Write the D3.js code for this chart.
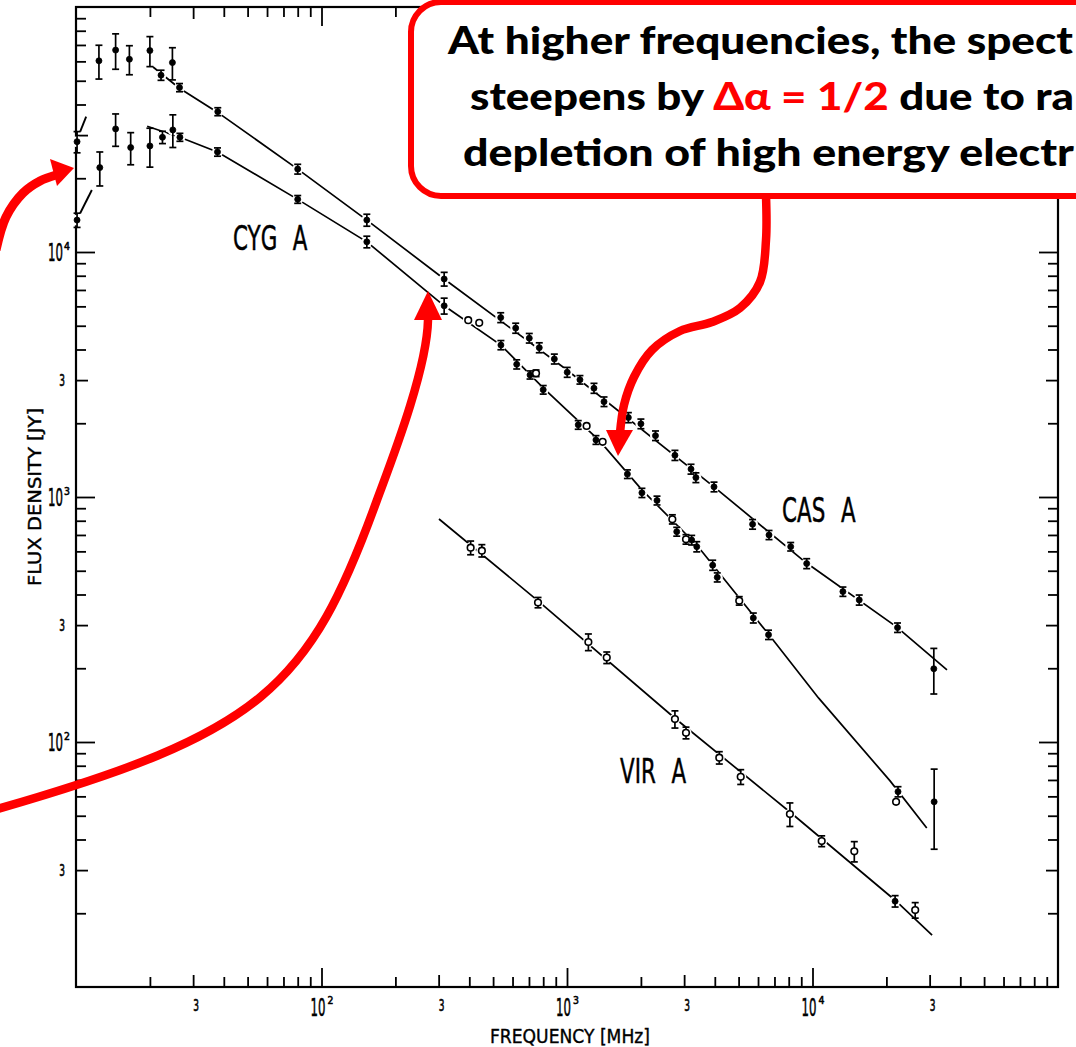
<!DOCTYPE html>
<html><head><meta charset="utf-8">
<script src="https://cdn.jsdelivr.net/npm/d3@7"></script>
<style>
html,body{margin:0;padding:0;background:#fff;overflow:hidden}
svg{display:block}
</style></head><body>
<svg id="chart" width="1076" height="1047" xmlns="http://www.w3.org/2000/svg"></svg>
<script>
// ---------------- DATA (frequency in MHz, flux density in Jy) ----------------
const casFreq = [10.1,12.4,14.5,16.5,20.0,22.2,24.7,26.4,37.8,80,153,316,537,618,702,771,888,1002,1129,1288,1415,1778,2000,2293,2752,3200,3350,3970,5700,6650,8150,9470,13300,15500,22200,31200];
const casFlux = [28200,60300,66700,61200,66400,52700,59300,46900,37400,21800,13500,7760,5400,4890,4450,4070,3660,3230,3010,2780,2450,2110,1990,1780,1480,1300,1200,1100,774,700,627,535,411,380,293,199];
const casErr  = [2800,9500,11000,8300,9300,2500,8900,1800,1400,1000,760,500,250,230,200,190,170,150,120,130,110,100,90,80,70,60,55,50,35,30,25,25,18,18,13,42];

const cygFreq = [10.1,12.5,14.5,16.7,20.0,22.5,24.8,26.5,37.7,80,153,316,396,439,538,624,707,748,800,1111,1202,1312,1397,1762,2019,2326,2686,2799,3053,3220,3377,3921,4093,5030,5740,6620,22300,21900,31300];
const cygFlux = [13500,22100,31800,26700,27100,29400,31500,29400,25600,16400,11000,6030,5270,5140,4170,3480,3150,3200,2740,1970,1950,1710,1680,1240,1040,968,811,722,672,667,627,527,470,377,321,274,62.7,57.0,57.0];
const cygErr  = [900,3500,4800,4000,4900,1700,4800,1100,1000,600,600,450,0,0,180,150,120,100,110,80,0,70,0,50,45,40,35,30,30,30,30,25,20,15,15,12,3,0,20.5];
const cygOpen = [0,0,0,0,0,0,0,0,0,0,0,0,1,1,0,0,0,1,0,0,1,0,1,0,0,0,1,0,1,0,0,0,0,1,0,0,0,1,0];

const virFreq = [405,450,762,1222,1452,2752,3053,4172,5100,8090,10900,14800,21700,26200];
const virFlux = [621,604,371,256,221,124,109,86.3,72.1,50.8,39.4,35.8,22.4,20.6];
const virErr  = [40,35,18,20,12,10,6,5,5,5.6,2,3.4,1.2,1.5];
const virOpen = [1,1,1,1,1,1,1,1,1,1,1,1,0,1];

// drawn spectra (fitted curves)
const casLineFreq = [20.6,26.3,37.5,80,153,316,1000,3970,9400,22000,35300];
const casLineFlux = [56900,46700,37300,21800,13500,7760,3300,1100,540,295,197];
const casLowFreq  = [10.4,11.0];
const casLowFlux  = [31000,35700];
const cygLineFreq = [19.5,26.5,37.7,80,153,316,538,800,1361,2019,3377,6650,10600,20700,29200];
const cygLineFlux = [32600,29400,25600,16400,11000,6030,4170,2790,1690,1070,637,274,151,69.4,44.6];
const cygLowFreq  = [10.4,11.6];
const cygLowFlux  = [14400,17900];
const virLineFreq = [301,762,2752,8090,21700,30700];
const virLineFlux = [813,377,125,51.8,22.6,16.3];

// source labels
const labelNames = ["CYG A","CAS A","VIR A"];
const labelFreq  = [43.6,7520,1644];
const labelFlux  = [10200,791,68];

// axis ticks
const decades    = [10,100,1000,10000];
const majorTicks = [100,1000,10000];
const threeTicks = [30,300,3000,30000];
const minorMult  = [2,4,5,6,7,8,9];
const xMajorLabels = ["2","3","4"];
const yMajorLabels = ["2","3","4"];
const xTitle = "FREQUENCY [MHz]";
const yTitle = "FLUX DENSITY [JY]";

// annotation text (as visible in the reference, clipped by its right edge)
const noteLines = [
  [{t:"At higher frequencies, the spect", c:"#000"}],
  [{t:"steepens by ", c:"#000"},{t:"Δα = 1/2", c:"#ff0000"},{t:" due to ra", c:"#000"}],
  [{t:"depletion of high energy electr", c:"#000"}]
];

// ---------------- CHART ----------------
const W=1076,H=1047;
const svg=d3.select('#chart');
svg.append('rect').attr('width',W).attr('height',H).attr('fill','#fff');

const x=d3.scaleLog().domain([10,1e5]).range([76,1058]);
const y=d3.scaleLog().domain([10,1e5]).range([987,7]);
const LAB="'DejaVu Sans', 'Liberation Sans', sans-serif";

// ---- axes (ticks inward on all four sides) ----
const gAx=svg.append('g');
const minorVals=decades.flatMap(d=>minorMult.map(m=>m*d));
function drawAxis(gen,pos,vals,len){
  const g=gAx.append('g').attr('transform',pos)
    .call(gen.tickValues(vals).tickSize(-len).tickFormat(''));
  g.select('.domain').remove();
  g.selectAll('line').attr('stroke','#000').attr('stroke-width',1.8);
}
[[d3.axisBottom(x),`translate(0,${y(10)})`],[d3.axisTop(x),`translate(0,${y(1e5)})`],
 [d3.axisLeft(y),`translate(${x(10)},0)`],[d3.axisRight(y),`translate(${x(1e5)},0)`]]
 .forEach(([gen,pos])=>{
   drawAxis(gen,pos,minorVals,10);
   drawAxis(gen,pos,threeTicks,12);
   drawAxis(gen,pos,majorTicks,19);
 });
gAx.append('rect').attr('x',x(10)).attr('y',y(1e5))
  .attr('width',x(1e5)-x(10)).attr('height',y(10)-y(1e5))
  .attr('fill','none').attr('stroke','#000').attr('stroke-width',2.2);

// tick labels
function ctext(g,px,py,str,size,sx,anchor){
  return g.append('text').attr('transform',`translate(${px},${py}) scale(${sx},1)`)
    .attr('font-family',LAB).attr('font-size',size).attr('text-anchor',anchor||'middle')
    .attr('fill','#000').attr('stroke','#000').attr('stroke-width',0.6).text(str);
}
const gLab=svg.append('g');
majorTicks.forEach((v,i)=>{
  ctext(gLab,63,y(v)+9,"10",25,0.47,'end');
  ctext(gLab,64,y(v)-2,yMajorLabels[i],11,0.85,'start');
  ctext(gLab,x(v)+4,1016,"10",25,0.47,'end');
  ctext(gLab,x(v)+6,1004,xMajorLabels[i],11,0.85,'start');
});
threeTicks.slice(0,3).forEach(v=>ctext(gLab,62,y(v)+5.5,"3",15,0.6,'middle'));
threeTicks.forEach(v=>ctext(gLab,x(v)+3,1011,"3",15,0.6,'middle'));

// axis titles
gLab.append('text').attr('x',570).attr('y',1043).attr('text-anchor','middle')
  .attr('font-family',LAB).attr('font-size',19).attr('textLength',160)
  .attr('lengthAdjust','spacingAndGlyphs').attr('stroke','#000').attr('stroke-width',0.4).text(xTitle);
gLab.append('text').attr('transform','translate(41,497) rotate(-90)').attr('text-anchor','middle')
  .attr('font-family',LAB).attr('font-size',17).attr('textLength',178)
  .attr('lengthAdjust','spacingAndGlyphs').attr('stroke','#000').attr('stroke-width',0.4).text(yTitle);

// ---- spectra ----
const line=d3.line().x(d=>x(d[0])).y(d=>y(d[1]));
const gLines=svg.append('g'), gHalo=svg.append('g'), gPts=svg.append('g');
const all=[
  {f:casFreq,s:casFlux,e:casErr,o:casFreq.map(()=>0),lf:casLineFreq,ls:casLineFlux,af:casLowFreq,as:casLowFlux},
  {f:cygFreq,s:cygFlux,e:cygErr,o:cygOpen,lf:cygLineFreq,ls:cygLineFlux,af:cygLowFreq,as:cygLowFlux},
  {f:virFreq,s:virFlux,e:virErr,o:virOpen,lf:virLineFreq,ls:virLineFlux}
];
all.forEach(S=>{
  gLines.append('path').datum(d3.zip(S.lf,S.ls)).attr('d',line)
    .attr('fill','none').attr('stroke','#000').attr('stroke-width',1.7);
  if(S.af) gLines.append('path').datum(d3.zip(S.af,S.as)).attr('d',line)
    .attr('fill','none').attr('stroke','#000').attr('stroke-width',1.9);
  const pts=S.f.map((f,i)=>({f,s:S.s[i],e:S.e[i],o:S.o[i]}));
  gHalo.selectAll(null).data(pts).enter().append('circle')
    .attr('cx',d=>x(d.f)).attr('cy',d=>y(d.s)).attr('r',5.5).attr('fill','#fff');
  const g=gPts.selectAll(null).data(pts).enter().append('g');
  const gb=g.filter(d=>d.e>0);
  gb.append('line').attr('x1',d=>x(d.f)).attr('x2',d=>x(d.f))
    .attr('y1',d=>y(d.s+d.e)).attr('y2',d=>y(Math.max(d.s-d.e,1)))
    .attr('stroke','#000').attr('stroke-width',1.7);
  ['hi','lo'].forEach(k=>{
    gb.append('line').attr('x1',d=>x(d.f)-3.5).attr('x2',d=>x(d.f)+3.5)
      .attr('y1',d=>y(k==='hi'?d.s+d.e:d.s-d.e)).attr('y2',d=>y(k==='hi'?d.s+d.e:d.s-d.e))
      .attr('stroke','#000').attr('stroke-width',1.7);
  });
  g.append('circle').attr('cx',d=>x(d.f)).attr('cy',d=>y(d.s))
    .attr('r',d=>d.o?3.3:3.0)
    .attr('fill',d=>d.o?'#fff':'#000').attr('stroke','#000').attr('stroke-width',d=>d.o?1.6:0.8);
});

// source labels
labelNames.forEach((t,i)=>{
  const [a,b]=t.split(' ');
  const tx=svg.append('text')
    .attr('transform',`translate(${x(labelFreq[i])},${y(labelFlux[i])}) scale(0.63,1)`)
    .attr('font-family',LAB).attr('font-size',34).attr('fill','#000')
    .attr('stroke','#000').attr('stroke-width',0.5)
    .style('white-space','pre');
  tx.append('tspan').text(a);
  tx.append('tspan').attr('dx',14).text(' '+b);
});

// ---------------- ANNOTATION OVERLAY ----------------
const RED='#ff0000';
const gA=svg.append('g');
const curve=d3.line().curve(d3.curveCatmullRom.alpha(0.5));
function head(pts){ gA.append('path').attr('d','M'+pts.join('L')+'Z').attr('fill',RED); }
// small arrow at upper left
gA.append('path').attr('d',curve([[-4,250],[6,217],[23,193],[40,181],[56,175]]))
  .attr('fill','none').attr('stroke',RED).attr('stroke-width',9);
head([[74,168],[50,159],[57,186]]);
// long arrow from lower left
gA.append('path').attr('d','M-6,810 C263,733 309,688 377,500 C391,462 427,370 428,320')
  .attr('fill','none').attr('stroke',RED).attr('stroke-width',8.5);
head([[428,291],[414,320],[442,320]]);
// arrow from the note box
gA.append('path').attr('d',curve([[766,196],[766,240],[760,282],[740,308],[712,322],[680,331],[652,350],[634,377],[624,405],[620,433]]))
  .attr('fill','none').attr('stroke',RED).attr('stroke-width',8.5);
head([[618,456],[606,430],[633,430]]);

gA.append('rect').attr('x',411).attr('y',2).attr('width',800).attr('height',194)
  .attr('rx',30).attr('ry',30).attr('fill','#fff').attr('stroke',RED).attr('stroke-width',6);

// text lines, each fitted to the width it occupies in the reference
const noteX=[448,470,463], noteY=[54,110,166];
const noteW=[625,604,611];
noteLines.forEach((segs,i)=>{
  const t=gA.append('text').attr('x',noteX[i]).attr('y',noteY[i])
    .attr('font-family',"Lato, 'Open Sans', sans-serif")
    .attr('font-weight',900).attr('font-size',38)
    .attr('textLength',noteW[i]).attr('lengthAdjust','spacingAndGlyphs');
  segs.forEach(s=>t.append('tspan').attr('fill',s.c).text(s.t));
});
</script>
</body></html>
